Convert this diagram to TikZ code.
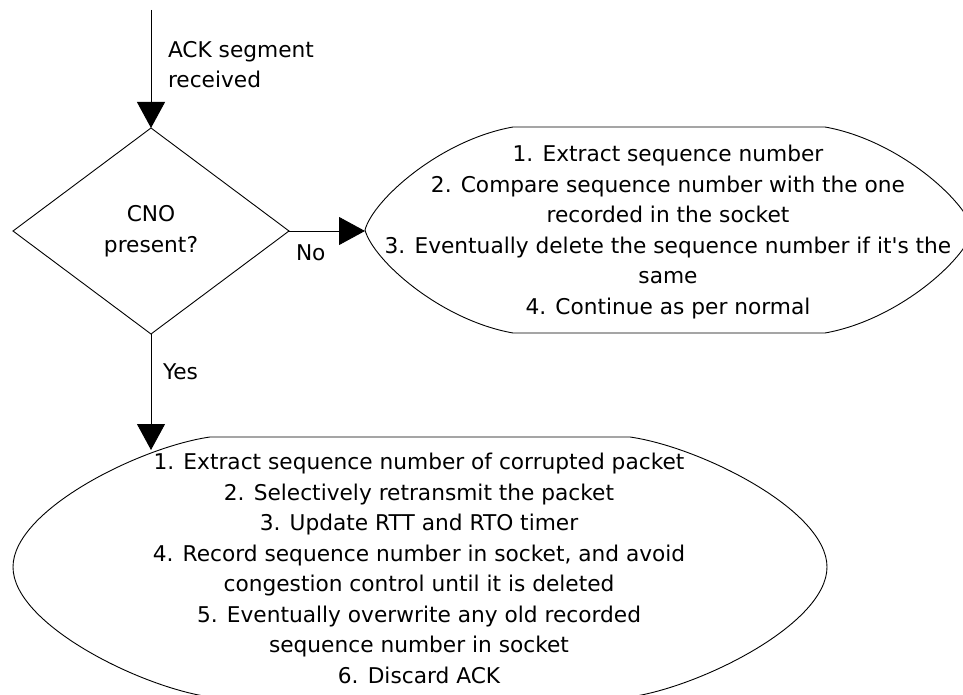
\documentclass[tikz,border=0pt]{standalone}
\usepackage{fontspec}
\newfontfamily\dvsans{DejaVu Sans}
\usetikzlibrary{arrows.meta,shapes.geometric}
\tikzset{
  flow/.style={line width=0.9pt, -{Triangle[length=26pt,width=28pt]}},
  txt/.style={font=\dvsans\fontsize{21.7}{30.5}\selectfont, inner sep=0pt, outer sep=0pt},
  outline/.style={draw, line width=0.9pt, line join=round},
  decision/.style={txt, diamond, draw, line width=0.9pt, minimum width=276pt, minimum height=206pt, align=center},
}
\begin{document}
\begin{tikzpicture}[x=1pt, y=-1pt]
\useasboundingbox (0,0) rectangle (963,695);
\clip (0,0) rectangle (963,695);

% decision
\node[decision] (dec) at (151,231) {CNO\\present?};

% "No" process outline
\draw[outline] (513,127) -- (825,127)
  .. controls (898,140) and (965,200) .. (973,230)
  .. controls (965,260) and (898,320) .. (825,333)
  -- (513,333)
  .. controls (440,320) and (373,260) .. (365,230)
  .. controls (373,200) and (440,140) .. (513,127) -- cycle;
\node[txt, align=center] (notext) at (668,231.8) {1. Extract sequence number\\
2. Compare sequence number with the one\\
recorded in the socket\\
3. Eventually delete the sequence number if it's the\\
same\\
4. Continue as per normal};

% "Yes" process outline
\draw[outline] (210,437) -- (630,437)
  .. controls (700,447) and (827,510) .. (827,567)
  .. controls (827,624) and (700,687) .. (630,697)
  -- (210,697)
  .. controls (140,687) and (13,624) .. (13,567)
  .. controls (13,510) and (140,447) .. (210,437) -- cycle;
\node[txt, align=center] (yestext) at (419,568.5) {1. Extract sequence number of corrupted packet\\
2. Selectively retransmit the packet\\
3. Update RTT and RTO timer\\
4. Record sequence number in socket, and avoid\\
congestion control until it is deleted\\
5. Eventually overwrite any old recorded\\
sequence number in socket\\
6. Discard ACK};

% connector end points
\coordinate (start) at (151,10);
\coordinate (noL) at (365,231);
\coordinate (yesT) at (151,450);

\draw[flow] (start) -- (dec.north);
\draw[flow] (dec.east) -- (noL);
\draw[flow] (dec.south) -- (yesT);

% labels
\node[txt, align=left, anchor=north west] (acklbl) at (168,41.2) {ACK segment\\received};
\node[txt, anchor=base west] (nolbl) at (296,260) {No};
\node[txt, anchor=base west] (yeslbl) at (163,379) {Yes};
\end{tikzpicture}
\end{document}
